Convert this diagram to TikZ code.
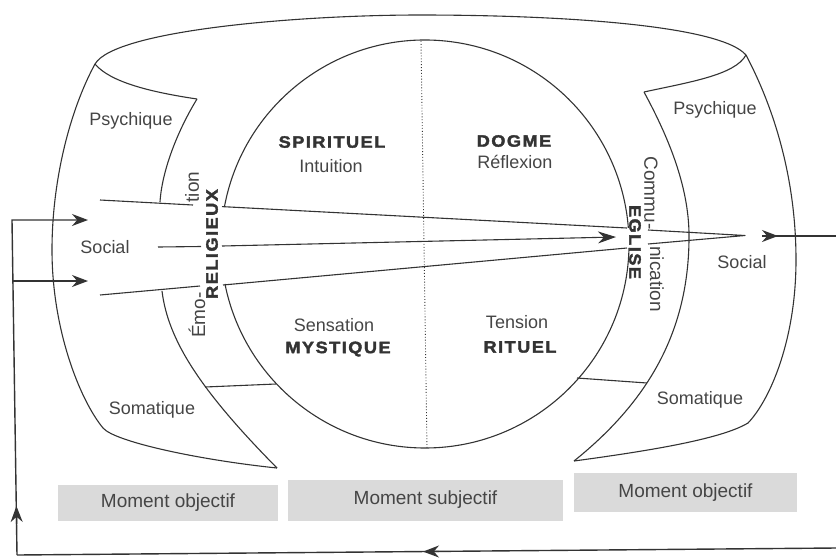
\documentclass[tikz,border=0pt]{standalone}
\usepackage{fontspec}
\setmainfont{Liberation Sans}
\newfontfamily\wbf{Liberation Sans Bold}[FakeStretch=1.1,LetterSpace=9,FakeBold=2.2]
\usetikzlibrary{arrows.meta}
\definecolor{ink}{HTML}{333333}
\definecolor{txt}{HTML}{454545}
\definecolor{boxg}{HTML}{DADADA}
\begin{document}
\begin{tikzpicture}[x=1pt,y=-1pt,
  edge/.style={draw=ink,line width=1.1pt,line join=round},
  lbl/.style={text=txt,font=\fontsize{18}{20}\selectfont,inner sep=0pt},
  blbl/.style={text=ink,font=\wbf\fontsize{16.5}{18}\selectfont,inner sep=0pt},
  ring/.style={text=txt,font=\fontsize{19}{21}\selectfont,inner sep=0pt},
  mbox/.style={fill=boxg,draw=none,inner sep=0pt,text=txt,font=\fontsize{19}{21}\selectfont},
  fb/.style={draw=ink,line width=1.4pt},
  tip/.style={-{Stealth[length=16pt,width=12pt]}}
]
\useasboundingbox (0,0) rectangle (836,558);

% ---------- outer shell ----------
\draw[edge] (95,64) .. controls (115,30) and (300,15) .. (420,15)
                    .. controls (560,15) and (720,25) .. (746,55);
% left lip, inner edge (upper)
\draw[edge] (95,64) .. controls (110,82) and (150,92) .. (197,99);
\draw[edge] (197,99) .. controls (178,130) and (162,170) .. (160,202);
% left outer edge and bottom
\draw[edge] (95,64) .. controls (70,110) and (52,180) .. (52,250)
                    .. controls (52,330) and (80,400) .. (103,428)
                    .. controls (115,442) and (200,460) .. (277,468);
% left inner edge (lower)
\draw[edge] (162,291) .. controls (168,340) and (200,390) .. (277,468);
\draw[edge] (205,387) -- (276,384);

% right lip and inner edge
\draw[edge] (746,55) .. controls (735,75) and (690,82) .. (644,92);
\draw[edge] (644,92) .. controls (670,140) and (690,190) .. (689,240)
                     .. controls (688,330) and (650,400) .. (574,461);
% right outer edge and bottom
\draw[edge] (746,55) .. controls (775,110) and (796,180) .. (796,260)
                     .. controls (796,340) and (770,400) .. (748,423)
                     .. controls (720,440) and (640,452) .. (574,461);
\draw[edge] (577,378) -- (647,383);

% ---------- circle ----------
\coordinate (C) at (425,244);
\draw[edge] (C) ++(190.6:204) arc[start angle=190.6,end angle=355.5,radius=204];
\draw[edge] (C) ++(1.1:204) arc[start angle=1.1,end angle=168.7,radius=204];
\draw[ink,dotted,line width=0.9pt] (421,41) -- (427,448);

% ---------- wedge ----------
\draw[edge] (100,200) -- (193,205);
\draw[edge] (222,206.6) -- (627,228);
\draw[edge] (158,247) -- (201,246.5);
\draw[edge,-{Stealth[length=18pt,width=12pt]}] (222,246) -- (616,237);
\draw[edge] (100,295) -- (200,286);
\draw[edge] (223,285) -- (627,248);
\draw[edge] (648,230) -- (745,235.5) -- (648,244);

% ---------- labels ----------
\node[lbl] (psyL) at (131,121) {Psychique};
\node[lbl] (socL) at (105,247) {Social};
\node[lbl] (somL) at (152,410) {Somatique};
\node[lbl] (psyR) at (715,110) {Psychique};
\node[lbl] (socR) at (742,262) {Social};
\node[lbl] (somR) at (700,400) {Somatique};

\node[blbl] (spi) at (332,142) {SPIRITUEL};
\node[lbl] (int) at (331,166) {Intuition};
\node[blbl] (dog) at (514,141) {DOGME};
\node[lbl] (ref) at (515,162) {Réflexion};
\node[lbl] (sen) at (334,325) {Sensation};
\node[blbl] (mys) at (338,349) {MYSTIQUE};
\node[lbl] (ten) at (517,322) {Tension};
\node[blbl] (rit) at (520,347) {RITUEL};

\node[ring,rotate=90] (tion) at (192,187) {tion};
\node[ring,rotate=90] (emo) at (197,315) {Émo-};
\node[blbl,rotate=90] (rel) at (212,244) {RELIGIEUX};
\node[blbl,rotate=-90] (egl) at (635,242) {EGLISE};
\node[ring,rotate=-90] (com) at (651,193) {Commu-};
\node[ring,rotate=-90] (nic) at (657,279) {nication};

% ---------- moment boxes ----------
\node[mbox,minimum width=220pt,minimum height=36pt] (m1) at (168,503) {Moment objectif};
\node[mbox,minimum width=275pt,minimum height=41pt] (m2) at (425.5,500) {Moment subjectif};
\node[mbox,minimum width=223pt,minimum height=39pt] (m3) at (685.5,492.5) {Moment objectif};

% ---------- feedback loop ----------
\coordinate (outA) at (762,236);
\coordinate (outB) at (836,236);
\coordinate (botR) at (836,548);
\coordinate (botL) at (17,555);
\coordinate (topL) at (12,220);
\coordinate (inA) at (88,220);
\coordinate (midL) at (12.9,281);
\coordinate (inB) at (88,281);
\draw[fb] (outA) -- (outB);
\draw[fb,tip] (outA) -- (778,236);
\draw[fb] (botR) -- (botL);
\draw[fb,tip] (439,551.5) -- (423,551.6);
\draw[fb,tip] (botL) -- (topL) -- (inA);
\draw[fb,tip] (midL) -- (inB);
\draw[fb,tip] (16.7,524) -- (16.4,506);
\end{tikzpicture}
\end{document}
